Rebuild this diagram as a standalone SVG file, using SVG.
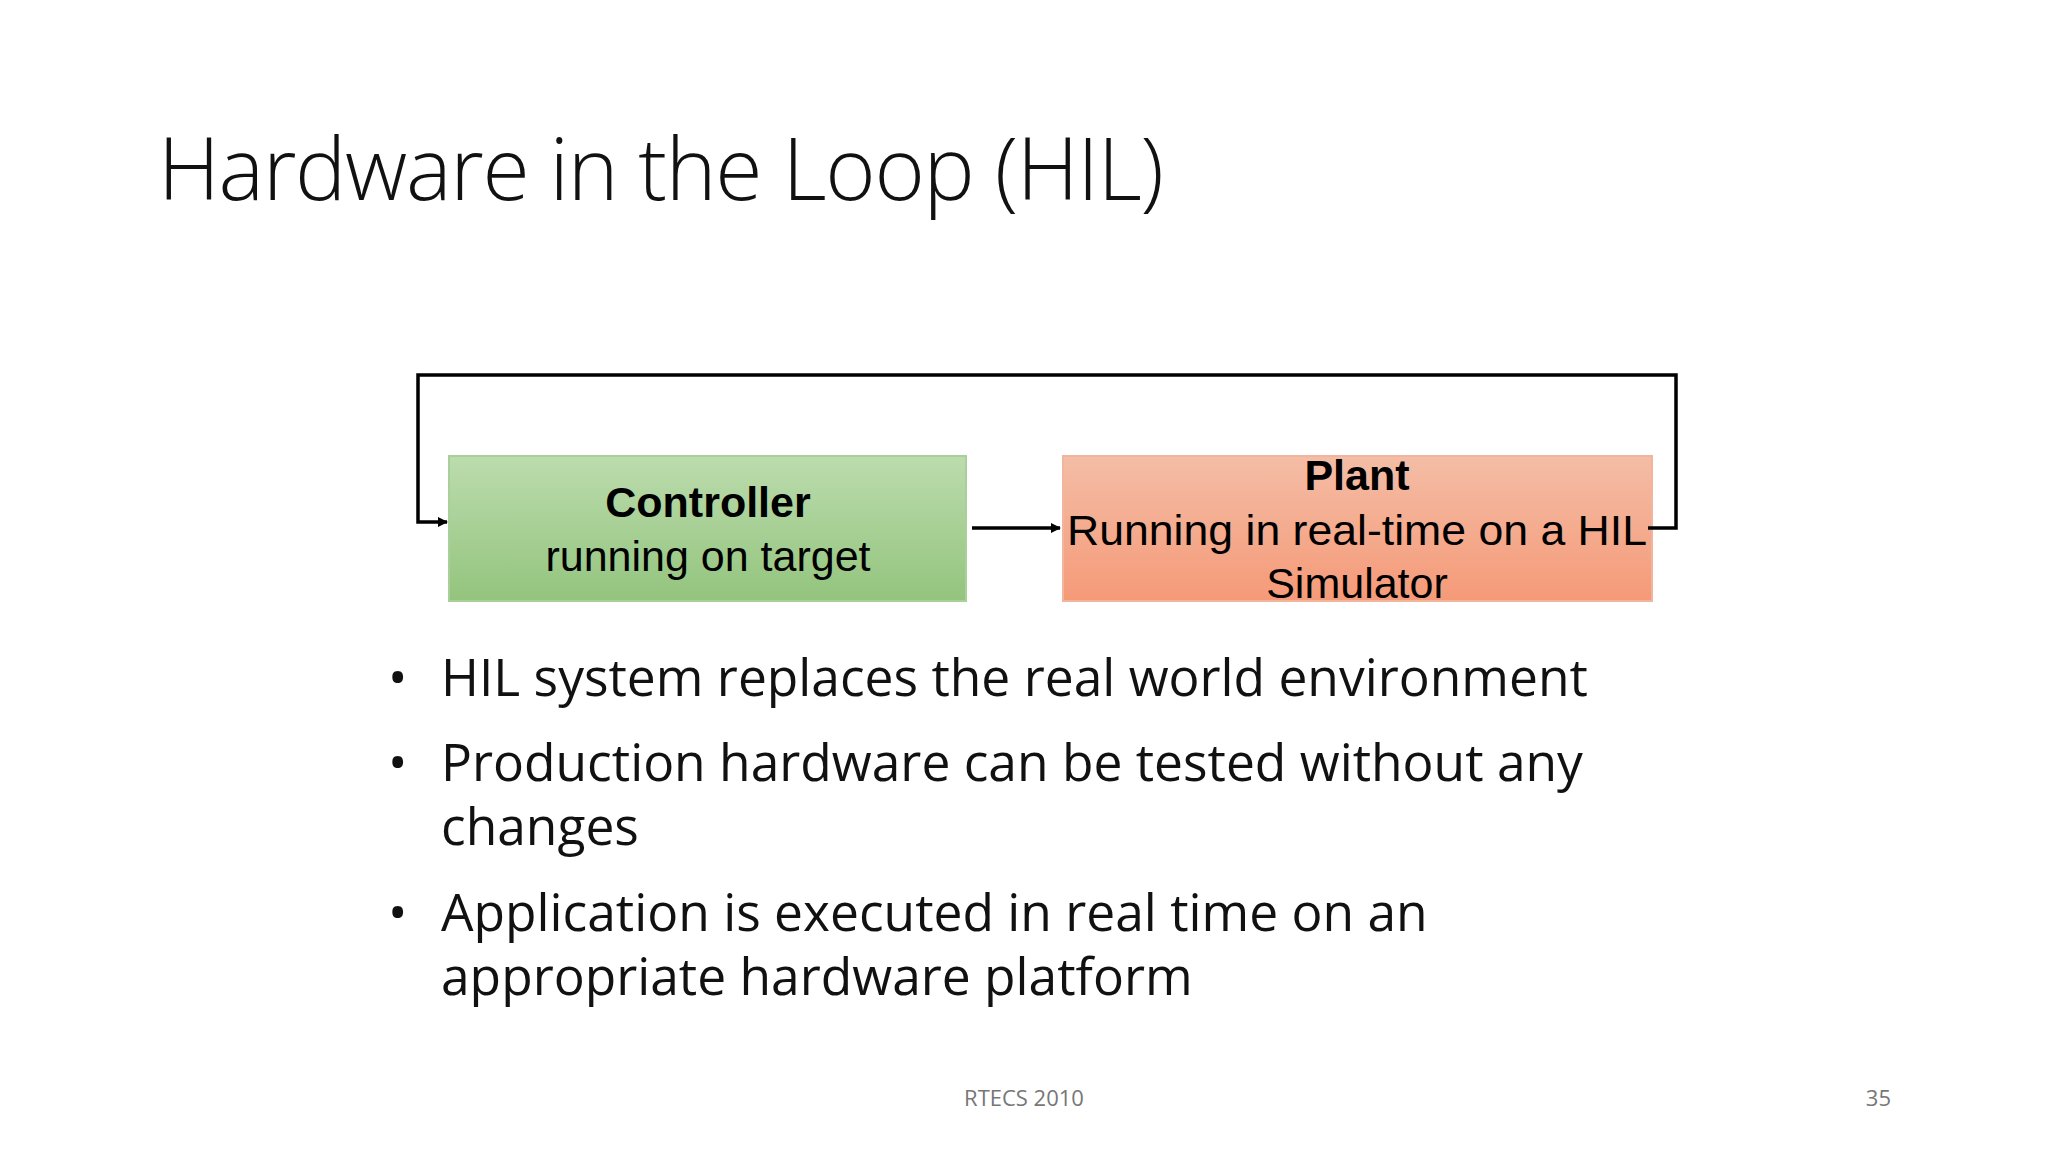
<svg xmlns="http://www.w3.org/2000/svg" width="2048" height="1152" viewBox="0 0 2048 1152">
<style>
.t{font-family:"Open Sans","Liberation Sans",sans-serif;fill:#111}
.b{font-family:"Liberation Sans",Arial,sans-serif;fill:#000;text-anchor:middle;font-size:43px}
.ln{fill:none;stroke:#000;stroke-width:3.5}
</style>
<defs>
<linearGradient id="g" x1="0" y1="0" x2="0" y2="1"><stop offset="0" stop-color="#bcdcae"/><stop offset="1" stop-color="#93c47d"/></linearGradient>
<linearGradient id="o" x1="0" y1="0" x2="0" y2="1"><stop offset="0" stop-color="#f4bda6"/><stop offset="1" stop-color="#f59a78"/></linearGradient>
<marker id="a" markerWidth="10" markerHeight="10" refX="9" refY="5" orient="auto" markerUnits="userSpaceOnUse"><path d="M0,0 L10,5 L0,10 z" fill="#000"/></marker>
</defs>
<rect width="2048" height="1152" fill="#fff"/>
<text class="t" x="158" y="200" font-size="86" font-weight="300" textLength="1006">Hardware in the Loop (HIL)</text>
<g id="controller">
<rect x="449" y="456" width="517" height="145" fill="url(#g)" stroke="#a9cf9b" stroke-width="2"/>
<text class="b" x="708" y="517" font-weight="bold">Controller</text>
<text class="b" x="708" y="571">running on target</text>
</g>
<g id="plant">
<rect x="1063" y="456" width="589" height="145" fill="url(#o)" stroke="#f0b59c" stroke-width="2"/>
<text class="b" x="1357" y="490" font-weight="bold">Plant</text>
<text class="b" x="1357" y="545" textLength="580" lengthAdjust="spacingAndGlyphs">Running in real-time on a HIL</text>
<text class="b" x="1357" y="598">Simulator</text>
</g>
<g id="connectors">
<path class="ln" d="M1648,528 H1676 V375 H418 V522 H447" marker-end="url(#a)"/>
<path class="ln" d="M972,528 H1060" marker-end="url(#a)"/>
</g>
<g class="t" font-size="51.5">
<text x="388" y="696">•</text><text x="441" y="696">HIL system replaces the real world environment</text>
<text x="388" y="781">•</text><text x="441" y="781">Production hardware can be tested without any</text>
<text x="441" y="845">changes</text>
<text x="388" y="931">•</text><text x="441" y="931">Application is executed in real time on an</text>
<text x="441" y="995">appropriate hardware platform</text>
</g>
<text class="t" x="1024" y="1106" font-size="22" style="fill:#777" text-anchor="middle">RTECS 2010</text>
<text class="t" x="1891" y="1106" font-size="22" style="fill:#777" text-anchor="end">35</text>
</svg>
